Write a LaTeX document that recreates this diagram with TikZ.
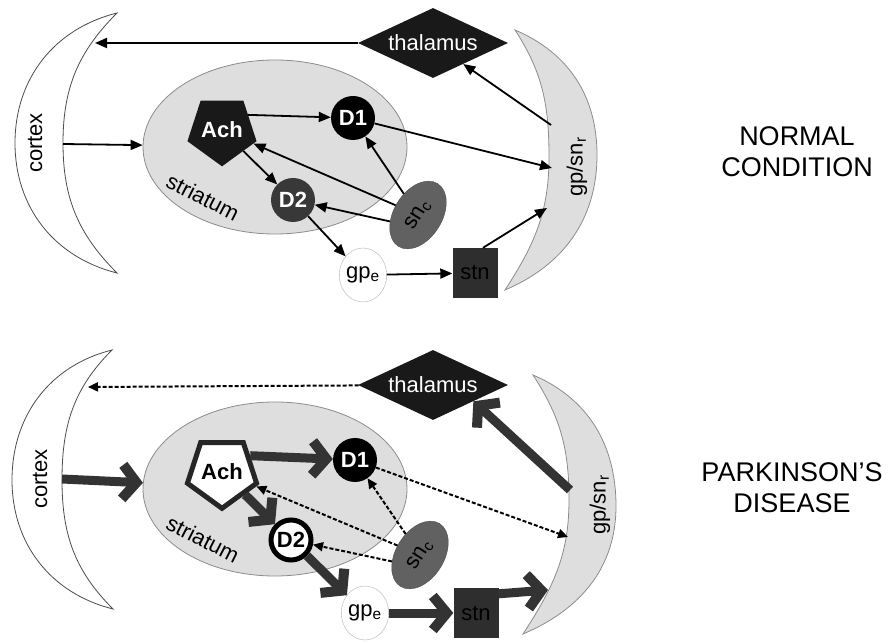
\documentclass[tikz,border=0pt]{standalone}
\usepackage{fontspec}
\setmainfont{Liberation Sans}
\usetikzlibrary{shapes.geometric,arrows.meta}

\tikzset{
  lbl/.style={font=\fontsize{22}{24}\selectfont},
  cond/.style={font=\fontsize{27}{31}\selectfont,align=center},
  cell/.style={circle,minimum size=44pt,inner sep=0pt,font=\fontsize{22}{24}\selectfont\bfseries},
  pent/.style={regular polygon,regular polygon sides=5,shape border rotate=180,inner sep=0pt,font=\fontsize{22}{24}\selectfont\bfseries},
  diam/.style={diamond,aspect=2.14,minimum width=150pt,minimum height=70pt,inner sep=0pt,fill=black!90,text=white,lbl},
  sncell/.style={ellipse,rotate=58,minimum width=74pt,minimum height=48pt,inner sep=0pt,fill=black!62,draw=black!70,lbl},
  gpcell/.style={ellipse,minimum width=34pt,minimum height=54pt,inner sep=0pt,fill=white,draw=black!30,lbl},
  stnbox/.style={rectangle,minimum width=45pt,minimum height=50pt,inner sep=0pt,fill=black!82,lbl},
  region/.style={fill=black!13,draw=black!45,line width=0.8pt},
  moon/.style={draw=black!70,line width=0.8pt,fill=white},
  arr/.style={-{Triangle[length=12pt,width=10pt]},line width=1.8pt},
  weak/.style={-{Triangle[length=10pt,width=9pt]},line width=2pt,dash pattern=on 4pt off 2pt},
  fat/.style={-{Straight Barb[length=14pt,width=34pt,line width=10pt,sharp]},line width=9pt,draw=black!80},
}

\begin{document}
\begin{tikzpicture}[x=1pt,y=1pt]
\useasboundingbox (0,0) rectangle (893,642);

% normal condition
\draw[moon] (117,629) to[out=194,in=90] (15,499) to[out=-90,in=166] (117,369)
  to[out=135,in=-90] (63,499) to[out=90,in=225] (117,629) -- cycle;
\draw[region] (515,612) to[out=-23,in=90] (597,487) to[out=-90,in=23] (505,352)
  to[out=57,in=-90] (549,485) to[out=90,in=-57] (515,612) -- cycle;
\node[region,ellipse,minimum width=264pt,minimum height=174pt,inner sep=0pt] (strN) at (275,495) {};
\node[lbl,rotate=90] (ctxN) at (35,499) {cortex};
\node[lbl,rotate=90] (gpN) at (577,475) {gp/sn\textsubscript{r}};
\node[lbl,rotate=-27] (strLblN) at (203,445) {striatum};

\node[diam] (thalN) at (433,599) {thalamus};
\node[pent,minimum size=66pt,fill=black!90,text=white] (achN) at (222,512) {Ach};
\node[cell,fill=black,text=white] (d1N) at (353,524) {D1};
\node[cell,fill=black!78,text=white] (d2N) at (293,442) {D2};
\node[sncell] (snN) at (418,427) {sn\textsubscript{c}};
\node[gpcell] (gpeN) at (363,367) {gp\textsubscript{e}};
\node[stnbox] (stnN) at (475,369) {stn};

\coordinate (ctxTN) at (95,599);
\coordinate (ctxSN) at (63,498);
\coordinate (gpTN) at (551,517);
\coordinate (gpDN) at (552,474);
\coordinate (gpSN) at (547,434);

\draw[arr] (thalN) -- (ctxTN);
\draw[arr] (ctxSN) -- (strN);
\draw[arr] (achN.30) -- (d1N);
\draw[arr] (achN) -- (d2N);
\draw[arr] (snN) -- (achN);
\draw[arr] (snN) -- (d1N);
\draw[arr] (snN.135) -- (d2N);
\draw[arr] (d1N) -- (gpDN);
\draw[arr] (d2N) -- (gpeN);
\draw[arr] (gpeN) -- (stnN);
\draw[arr] ([xshift=8pt]stnN.north) -- (gpSN);
\draw[arr] (gpTN) -- (thalN);

\node[cond] (nrm) at (797,490) {NORMAL\\CONDITION};

% parkinson's disease
\draw[moon] (112,292) to[out=194,in=90] (12,162) to[out=-90,in=166] (113,33)
  to[out=135,in=-90] (62,162) to[out=90,in=225] (112,292) -- cycle;
\draw[region] (533,267) to[out=-23,in=90] (616,136) to[out=-90,in=23] (523,8)
  to[out=57,in=-90] (569,142) to[out=90,in=-57] (533,267) -- cycle;
\node[region,ellipse,minimum width=264pt,minimum height=174pt,inner sep=0pt] (strP) at (275,153) {};
\node[lbl,rotate=90] (ctxP) at (40,163) {cortex};
\node[lbl,rotate=90] (gpP) at (600,137) {gp/sn\textsubscript{r}};
\node[lbl,rotate=-27] (strLblP) at (203,103) {striatum};

\node[diam] (thalP) at (433,257) {thalamus};
\node[pent,minimum size=60pt,draw=black!85,line width=5pt,fill=white] (achP) at (222,170) {Ach};
\node[cell,fill=black,text=white] (d1P) at (355,182) {D1};
\node[cell,minimum size=40pt,draw=black,line width=5pt,fill=white] (d2P) at (291,102) {D2};
\node[sncell] (snP) at (420,87) {sn\textsubscript{c}};
\node[gpcell] (gpeP) at (365,29) {gp\textsubscript{e}};
\node[stnbox] (stnP) at (476,29) {stn};

\coordinate (ctxTP) at (88,255);
\coordinate (ctxSP) at (62,163);
\coordinate (gpTP) at (570,152);
\coordinate (gpDP) at (568,105);
\coordinate (gpSP) at (548,52);

\draw[weak] (thalP) -- (ctxTP);
\draw[fat] (ctxSP) -- (strP);
\draw[fat] (achP.30) -- (d1P);
\draw[fat] (achP) -- (d2P);
\draw[weak] (snP) -- (achP);
\draw[weak] (snP) -- (d1P);
\draw[weak] (snP.135) -- (d2P);
\draw[weak] (d1P) -- (gpDP);
\draw[fat] (d2P) -- (gpeP);
\draw[fat] (gpeP) -- (stnP);
\draw[fat] ([yshift=-6pt]stnP.north east) -- (gpSP);
\draw[fat] (gpTP) -- (thalP.-22);

\node[cond] (pkd) at (792,154) {PARKINSON’S\\DISEASE};
\end{tikzpicture}
\end{document}
